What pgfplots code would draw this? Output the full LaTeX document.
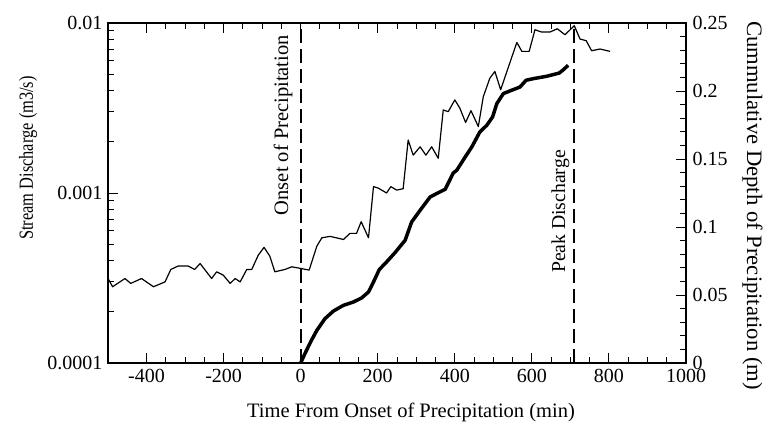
\documentclass[border=0pt]{standalone}
\usepackage{pgfplots}
\pgfplotsset{compat=1.18}
\usepackage{fontspec}
\setmainfont{Liberation Serif}
\newfontfamily\narrowserif[FakeStretch=0.82]{Liberation Serif}
\newfontfamily\wideserif[FakeStretch=1.03]{Liberation Serif}

\pgfplotstableread{
x y
-500 3.14e-4
-488 2.81e-4
-456 3.14e-4
-441 2.94e-4
-413 3.14e-4
-382 2.81e-4
-352 3.0e-4
-337 3.55e-4
-318 3.72e-4
-292 3.72e-4
-275 3.55e-4
-261 3.85e-4
-231 3.14e-4
-218 3.44e-4
-201 3.29e-4
-183 2.94e-4
-170 3.14e-4
-157 3.0e-4
-140 3.55e-4
-127 3.55e-4
-110 4.31e-4
-95 4.79e-4
-80 4.25e-4
-67 3.44e-4
-41 3.55e-4
-23 3.68e-4
0 3.6e-4
22 3.52e-4
42 4.87e-4
55 5.45e-4
76 5.56e-4
111 5.33e-4
128 5.79e-4
145 5.79e-4
157 6.78e-4
176 5.45e-4
189 1.09e-3
201 1.07e-3
223 1.0e-3
234 1.09e-3
249 1.04e-3
266 1.06e-3
279 2.05e-3
292 1.67e-3
310 1.87e-3
325 1.67e-3
340 1.87e-3
357 1.60e-3
370 3.08e-3
383 3.01e-3
400 3.53e-3
413 3.16e-3
428 2.60e-3
442 3.05e-3
461 2.46e-3
474 3.69e-3
491 4.74e-3
504 5.19e-3
519 4.05e-3
561 7.69e-3
574 6.81e-3
593 6.81e-3
608 9.13e-3
625 8.85e-3
647 8.85e-3
666 9.25e-3
686 8.53e-3
710 9.64e-3
725 8.05e-3
741 7.87e-3
755 6.87e-3
777 7.03e-3
803 6.81e-3
}\discharge

\pgfplotstableread{
x y
0 0.0
11 0.0069
28 0.0167
42 0.024
63 0.0326
85 0.0382
111 0.0424
137 0.0449
158 0.0478
176 0.0522
189 0.0596
204 0.0687
223 0.0743
245 0.0812
271 0.0902
288 0.1037
310 0.1123
336 0.1221
353 0.1246
375 0.1277
396 0.1397
405 0.1417
427 0.1515
444 0.1588
465 0.1699
483 0.1748
498 0.1809
509 0.1907
526 0.1981
547 0.2005
569 0.2029
585 0.2079
604 0.2091
638 0.2108
671 0.2132
682 0.2157
694 0.2189
}\depth

\begin{document}
\begin{tikzpicture}
\pgfplotsset{
  every axis/.append style={
    scale only axis, width=578pt, height=340pt,
    xmin=-500, xmax=1000,
    axis line style={line width=1.4pt},
    every tick/.style={black, line width=1pt},
    tick align=inside,
    major tick length=10pt, minor tick length=6pt,
    tick label style={font=\fontsize{20}{24}\selectfont},
    /pgf/number format/assume math mode=true,
  }
}
\begin{axis}[
  ymode=log, ymin=1e-4, ymax=1e-2,
  xtick={-400,-200,0,200,400,600,800,1000},
  xticklabels={-400,-200,0,200,400,600,800,1000},
  minor x tick num=3,
  xtick pos=both,
  ytick={1e-4,1e-3,1e-2},
  yticklabels={0.0001,0.001,0.01},
  minor ytick={2e-4,3e-4,4e-4,5e-4,6e-4,7e-4,8e-4,9e-4,2e-3,3e-3,4e-3,5e-3,6e-3,7e-3,8e-3,9e-3},
  ytick pos=left,
  yticklabel style={xshift=-2pt},
  xticklabel style={yshift=-3pt},
]
\addplot[black, line width=1.2pt, line join=round] table[x=x,y=y] {\discharge};
\addplot[black, line width=1.8pt, dash pattern=on 14pt off 6pt] coordinates {(0,1e-4) (0,1e-2)};
\addplot[black, line width=1.8pt, dash pattern=on 14pt off 6pt] coordinates {(710,1e-4) (710,1e-2)};
\end{axis}
\begin{axis}[
  axis x line=none,
  axis y line*=right,
  ymin=0, ymax=0.25,
  ytick={0,0.05,0.1,0.15,0.2,0.25},
  yticklabels={0,0.05,0.1,0.15,0.2,0.25},
  minor y tick num=4,
  yticklabel style={xshift=3pt},
]
\addplot[black, line width=3.5pt, line join=round] table[x=x,y=y] {\depth};
\end{axis}
\node[anchor=base, font=\fontsize{20.5}{24}\selectfont] at (303pt,-54pt) {Time From Onset of Precipitation (min)};
\node[rotate=90, anchor=base, font=\narrowserif\fontsize{20}{24}\selectfont] at (-75pt,205pt) {Stream Discharge (m3/s)};
\node[rotate=-90, anchor=base, font=\wideserif\fontsize{22}{26}\selectfont] at (639pt,157.5pt) {Cummulative Depth of Precipitation (m)};
\node[rotate=90, anchor=base east, inner sep=0pt, font=\fontsize{20.5}{24}\selectfont] at (180pt,328pt) {Onset of Precipitation};
\node[rotate=90, anchor=base east, inner sep=0pt, font=\fontsize{19.7}{24}\selectfont] at (457pt,213pt) {Peak Discharge};
\pgfresetboundingbox
\path[use as bounding box] (-108pt,-58pt) rectangle (660pt,363pt);
\end{tikzpicture}
\end{document}
